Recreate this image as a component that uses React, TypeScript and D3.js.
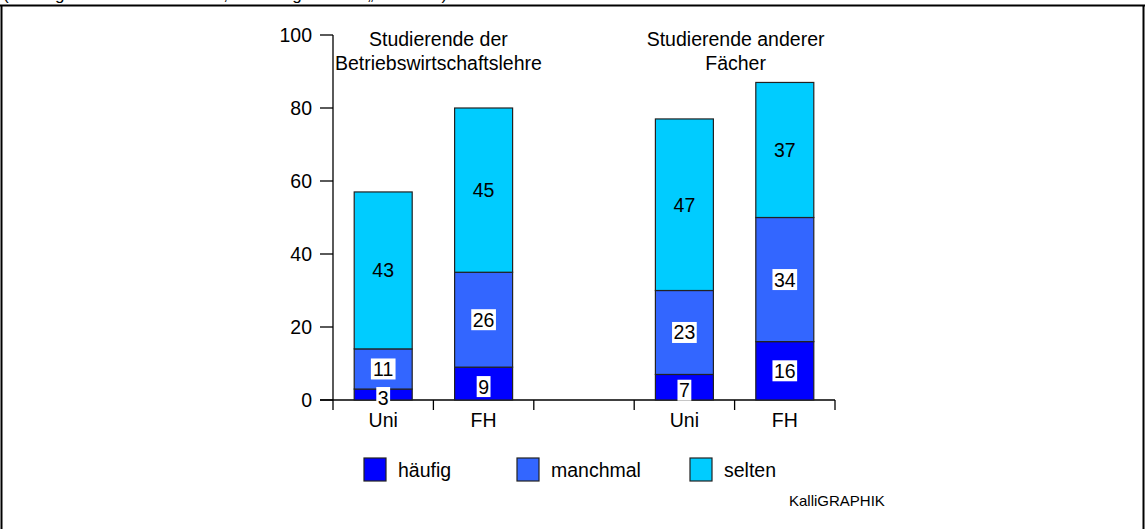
import * as d3 from 'd3';

const slots = ['bwl-uni', 'bwl-fh', 'gap', 'andere-uni', 'andere-fh'];
const slotLabels = ['Uni', 'FH', '', 'Uni', 'FH'];
const barSlots = ['bwl-uni', 'bwl-fh', 'andere-uni', 'andere-fh'];

const haeufig = [3, 9, 7, 16];
const manchmal = [11, 26, 23, 34];
const selten = [43, 45, 47, 37];

const seriesKeys = ['häufig', 'manchmal', 'selten'];
const seriesColors = ['#0000FF', '#3366FF', '#00CCFF'];

const groupTitles = [
  ['Studierende der', 'Betriebswirtschaftslehre'],
  ['Studierende anderer', 'Fächer'],
];
const groupSlots = [
  ['bwl-uni', 'bwl-fh'],
  ['andere-uni', 'andere-fh'],
];

const yTicks = [0, 20, 40, 60, 80, 100];
const headerText = '(Umfrage unter Studierenden, Nennungen in %: „Wie oft?“)';
const credit = 'KalliGRAPHIK';

const W = 1145;
const H = 529;
const font = 'Arial, "Liberation Sans", sans-serif';

export default function App() {
  const x = d3.scaleBand<string>().domain(slots).range([333, 835]).padding(0);
  const y = d3.scaleLinear().domain([0, 100]).range([400, 35]);
  const barW = 58;

  const rows = barSlots.map((s, i) => ({
    slot: s,
    'häufig': haeufig[i],
    manchmal: manchmal[i],
    selten: selten[i],
  }));
  const stacked = d3.stack<any>().keys(seriesKeys)(rows);

  const fs = 19.5;
  const digitW = fs * 0.556;

  return (
    <svg
      width={W}
      height={H}
      style={{ position: 'absolute', left: 0, top: 0, background: '#fff' }}
      fontFamily={font}
    >
      <text x={3} y={0} fontSize={17} fill="#000">
        {headerText}
      </text>
      {/* frame */}
      <line x1={0} x2={W} y1={5.5} y2={5.5} stroke="#000" strokeWidth={2} />
      <line x1={1.5} x2={1.5} y1={5} y2={H} stroke="#000" strokeWidth={2} />
      <line x1={1143.5} x2={1143.5} y1={5} y2={H} stroke="#000" strokeWidth={2} />

      {/* y axis */}
      <line x1={333} x2={333} y1={y(100)} y2={y(0)} stroke="#000" strokeWidth={1.3} />
      {yTicks.map((t) => (
        <g key={t}>
          <line x1={320} x2={333} y1={y(t)} y2={y(t)} stroke="#000" strokeWidth={1.3} />
          <text x={312} y={y(t) + 7} fontSize={fs} textAnchor="end" fill="#000">
            {t}
          </text>
        </g>
      ))}

      {/* x axis */}
      <line x1={320} x2={835} y1={y(0)} y2={y(0)} stroke="#000" strokeWidth={1.3} />
      {slots.map((s) => (
        <line
          key={'t' + s}
          x1={x(s)!}
          x2={x(s)!}
          y1={y(0)}
          y2={y(0) + 10}
          stroke="#000"
          strokeWidth={1.3}
        />
      ))}
      <line x1={835} x2={835} y1={y(0)} y2={y(0) + 10} stroke="#000" strokeWidth={1.3} />
      {slots.map((s, i) => (
        <text
          key={'l' + s}
          x={x(s)! + x.bandwidth() / 2}
          y={y(0) + 27}
          fontSize={fs}
          textAnchor="middle"
          fill="#000"
        >
          {slotLabels[i]}
        </text>
      ))}

      {/* bars */}
      {stacked.map((layer, li) =>
        layer.map((d, i) => {
          const cx = x(barSlots[i])! + x.bandwidth() / 2;
          return (
            <rect
              key={layer.key + i}
              x={cx - barW / 2}
              y={y(d[1])}
              width={barW}
              height={y(d[0]) - y(d[1])}
              fill={seriesColors[li]}
              stroke="#222"
              strokeWidth={1.2}
            />
          );
        }),
      )}

      {/* value labels */}
      {stacked.map((layer, li) =>
        layer.map((d, i) => {
          const cx = x(barSlots[i])! + x.bandwidth() / 2;
          const v = d[1] - d[0];
          const cy = y((d[0] + d[1]) / 2) + (li === 0 && v < 10 ? 3 : 0);
          const label = String(v);
          const tw = label.length * digitW;
          return (
            <g key={'v' + layer.key + i}>
              {li < 2 && (
                <rect x={cx - tw / 2 - 1.5} y={cy - 10.5} width={tw + 3} height={21} fill="#fff" />
              )}
              <text x={cx} y={cy + 7} fontSize={fs} textAnchor="middle" fill="#000">
                {label}
              </text>
            </g>
          );
        }),
      )}

      {/* group titles */}
      {groupTitles.map((lines, gi) => {
        const [a, b] = groupSlots[gi];
        const cx = (x(a)! + x(b)! + x.bandwidth()) / 2 + (gi === 0 ? 5 : 1);
        return (
          <text key={'g' + gi} x={cx} textAnchor="middle" fontSize={fs} fill="#000">
            {lines.map((ln, k) => (
              <tspan key={k} x={cx} y={46 + k * 24}>
                {ln}
              </tspan>
            ))}
          </text>
        );
      })}

      {/* legend */}
      {seriesKeys.map((k, i) => {
        const lx = [364, 517, 690][i];
        return (
          <g key={'lg' + k}>
            <rect x={lx} y={458} width={22} height={23} fill={seriesColors[i]} stroke="#222" strokeWidth={1.2} />
            <text x={lx + 34} y={477} fontSize={fs} fill="#000">
              {k}
            </text>
          </g>
        );
      })}
      <text x={789} y={506} fontSize={15} fill="#000">
        {credit}
      </text>
    </svg>
  );
}
